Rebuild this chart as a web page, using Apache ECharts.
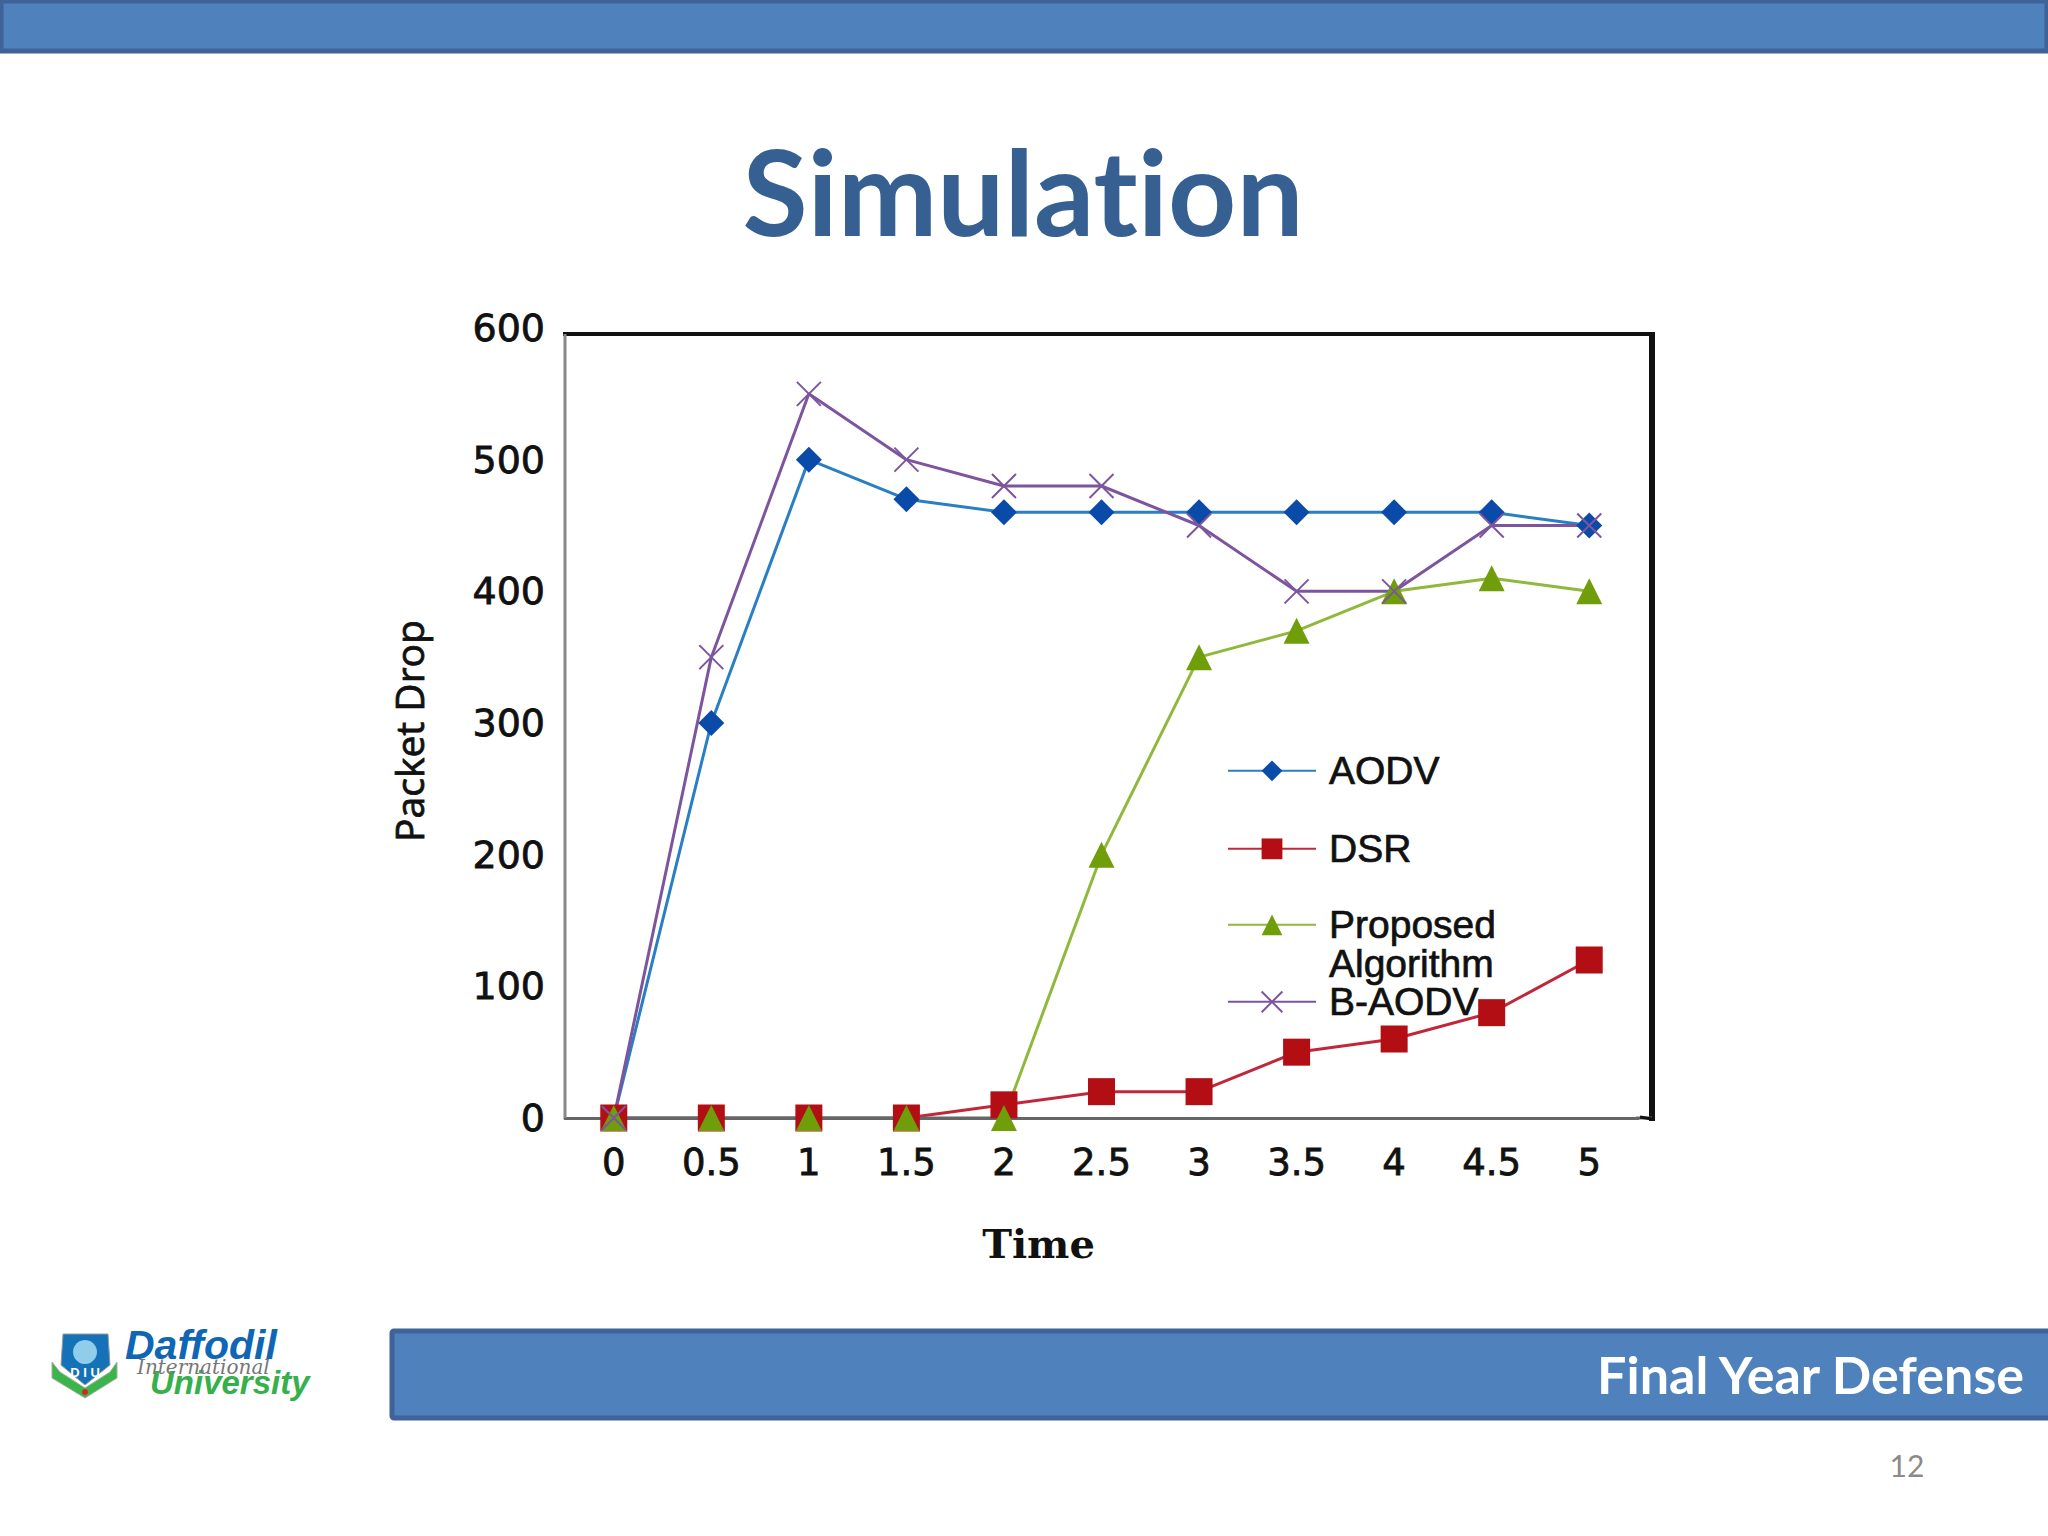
<!DOCTYPE html>
<html>
<head>
<meta charset="utf-8">
<title>Simulation</title>
<script src="https://cdn.jsdelivr.net/npm/echarts@6/dist/echarts.min.js"></script>
<style>
  html, body { margin: 0; padding: 0; background: #fff; }
  #main { width: 2048px; height: 1536px; }
  text { font-variant-ligatures: none !important; }
</style>
</head>
<body>
<div id="main"></div>
<script>
const times = ['0', '0.5', '1', '1.5', '2', '2.5', '3', '3.5', '4', '4.5', '5']
const aodv = [0, 300, 500, 470, 460, 460, 460, 460, 460, 460, 450]
const dsr = [0, 0, 0, 0, 10, 20, 20, 50, 60, 80, 120]
const proposed = [0, 0, 0, 0, 0, 200, 350, 370, 400, 410, 400]
const baodv = [0, 350, 550, 500, 480, 480, 450, 400, 400, 450, 450]

const labelFont = 'DejaVu Sans'
const legendFont = 'Liberation Sans'
const slideFont = 'Lato'
const axisColor = '#666'
const crossPath = 'path://M0 0L20 20M20 0L0 20'

const chart = echarts.init(document.getElementById('main'), null, { renderer: 'svg' })

function oneLegend(name, top, lineColor, formatter) {
  return {
    data: [name],
    left: 1222,
    top: top,
    itemWidth: 88,
    itemHeight: 26,
    itemGap: 0,
    selectedMode: false,
    formatter: formatter,
    lineStyle: { color: lineColor },
    textStyle: {
      fontFamily: legendFont,
      fontSize: 39,
      lineHeight: 39,
      color: '#111',
      textBorderColor: '#111',
      textBorderWidth: 0.7,
      padding: [0, 0, 0, 8]
    }
  }
}

// the part of a line that lies on the axis takes the axis colour, as in the reference
function axisColorUntil(stop, color) {
  return new echarts.graphic.LinearGradient(0, 0, 1, 0, [
    { offset: 0, color: axisColor },
    { offset: stop, color: axisColor },
    { offset: stop, color: color },
    { offset: 1, color: color }
  ])
}

function slideLine(x1, y1, x2, y2, color, width) {
  return {
    type: 'line',
    shape: { x1, y1, x2, y2 },
    style: { stroke: color, lineWidth: width },
    z: 5
  }
}

function slideText(text, x, y, font, color, align) {
  return {
    type: 'text',
    x: x,
    y: y,
    style: { text: text, font: font, fill: color, align: align || 'left', verticalAlign: 'middle' },
    z: 6
  }
}

const option = {
  backgroundColor: '#fff',
  animation: false,
  grid: { left: 565, top: 328, width: 1073, height: 790 },
  legend: [
    oneLegend('AODV', 746, '#2a7ec4'),
    oneLegend('DSR', 824, '#c0283a'),
    oneLegend('Proposed Algorithm', 861, '#90b83c', () => ' \nProposed\nAlgorithm'),
    oneLegend('B-AODV', 977, '#7d559f')
  ],
  xAxis: {
    type: 'category',
    data: times,
    name: 'Time',
    nameLocation: 'middle',
    nameGap: 105,
    nameTextStyle: {
      fontFamily: 'DejaVu Serif',
      fontWeight: 'bold',
      fontSize: 40,
      color: '#111',
      padding: [0, 126, 0, 0]
    },
    axisTick: { show: false },
    axisLine: { lineStyle: { color: axisColor, width: 3 } },
    axisLabel: {
      fontFamily: labelFont, fontSize: 37, color: '#111', margin: 26, interval: 0,
      textBorderColor: '#111', textBorderWidth: 0.8
    }
  },
  yAxis: {
    type: 'value',
    min: 0,
    max: 600,
    interval: 100,
    name: 'Packet Drop',
    nameLocation: 'middle',
    nameGap: 137,
    nameTextStyle: {
      fontFamily: 'Open Sans',
      fontSize: 39,
      color: '#111',
      textBorderColor: '#111',
      textBorderWidth: 0.8,
      padding: [0, 16, 0, 0]
    },
    splitLine: { show: false },
    axisTick: { show: false },
    axisLine: { show: false },
    axisLabel: {
      fontFamily: labelFont, fontSize: 38, color: '#111', margin: 20, padding: [3, 0, 0, 0],
      textBorderColor: '#111', textBorderWidth: 0.8
    }
  },
  series: [
    {
      name: 'AODV', type: 'line', data: aodv,
      symbol: 'diamond', symbolSize: 26, showAllSymbol: true,
      lineStyle: { color: '#2a7ec4', width: 3 },
      itemStyle: { color: '#0a4aa8' }
    },
    {
      name: 'DSR', type: 'line', data: dsr,
      symbol: 'rect', symbolSize: 27, showAllSymbol: true,
      lineStyle: { color: axisColorUntil(0.3, '#c0283a'), width: 3 },
      itemStyle: { color: '#b20e14' }
    },
    {
      name: 'Proposed Algorithm', type: 'line', data: proposed,
      symbol: 'triangle', symbolSize: 26, showAllSymbol: true,
      lineStyle: { color: axisColorUntil(0.4, '#90b83c'), width: 3 },
      itemStyle: { color: '#6f9e0a' }
    },
    {
      name: 'B-AODV', type: 'line', data: baodv,
      symbol: crossPath, symbolSize: 24, showAllSymbol: true,
      lineStyle: { color: '#7d559f', width: 3 },
      itemStyle: { color: 'transparent', borderColor: '#7d559f', borderWidth: 2 }
    }
  ],
  graphic: [
    // slide top bar
    {
      type: 'rect',
      shape: { x: 1, y: 1, width: 2046, height: 50 },
      style: { fill: '#4f81bd', stroke: '#3f6298', lineWidth: 5 }
    },
    slideText('Simulation', 1023, 190, 'bold 119px ' + slideFont, '#376092', 'center'),

    // chart frame
    slideLine(563, 334, 1652, 334, '#111', 4),
    slideLine(1652, 332, 1652, 1121, '#111', 6),
    slideLine(565, 334, 565, 1118, '#888', 3),
    slideLine(1636, 1118, 1652, 1118, axisColor, 3),
    slideLine(1640, 1117, 1652, 1119, '#111', 3),

    // footer
    {
      type: 'rect',
      shape: { x: 392, y: 1331, width: 1664, height: 87, r: 2 },
      style: { fill: '#4f81bd', stroke: '#3f6298', lineWidth: 5 }
    },
    slideText('Final Year Defense', 2024, 1374, 'bold 52px ' + slideFont, '#fff', 'right'),
    slideText('12', 1907, 1465, '30px ' + slideFont, '#8a8a8a', 'center'),

    // logo
    {
      type: 'polygon',
      shape: { points: [[52, 1362], [60, 1372], [85, 1388], [110, 1372], [117, 1362], [117, 1378], [85, 1398], [52, 1378]] },
      style: { fill: '#3ab54a', stroke: '#aaa', lineWidth: 1 }
    },
    {
      type: 'polygon',
      shape: { points: [[63, 1334], [108, 1334], [110, 1365], [85, 1385], [61, 1365]] },
      style: { fill: '#1672b8', stroke: '#999', lineWidth: 1 }
    },
    { type: 'circle', shape: { cx: 85, cy: 1352, r: 12 }, style: { fill: '#8fcdea' } },
    slideText('D I U', 85, 1372, 'bold 13px "Liberation Sans"', '#fff', 'center'),
    { type: 'circle', shape: { cx: 85, cy: 1392, r: 3 }, style: { fill: '#e02020' } },
    slideText('Daffodil', 125, 1345, 'italic bold 41px "Liberation Sans"', '#0f66b4'),
    slideText('University', 150, 1382, 'italic bold 33px "Liberation Sans"', '#35b04a'),
    slideText('International', 137, 1367, 'italic 20px "DejaVu Serif"', '#777')
  ]
}

chart.setOption(option)
</script>
</body>
</html>
